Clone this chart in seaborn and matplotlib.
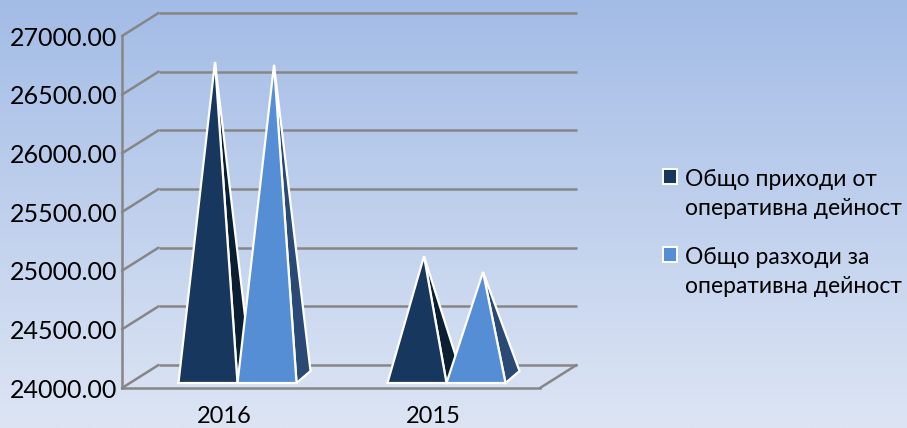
import numpy as np
import pandas as pd
import matplotlib
matplotlib.use("Agg")
import matplotlib.pyplot as plt
import seaborn as sns
from matplotlib.legend_handler import HandlerPatch
from matplotlib.patches import Patch, Rectangle
from matplotlib.transforms import Affine2D, IdentityTransform

years = ["2016", "2015"]
series_names = [
    "Общо приходи от\nоперативна дейност",
    "Общо разходи за\nоперативна дейност",
]
income = [26685, 25030]
expenses = [26660, 24895]
y_ticks = [24000, 24500, 25000, 25500, 26000, 26500, 27000]

front_colors = ["#17375E", "#558ED5"]
side_colors = ["#0B1F33", "#2A4A75"]
grid_color = "#868686"

df = pd.DataFrame({
    "year": years * 2,
    "value": income + expenses,
    "series": [series_names[0]] * 2 + [series_names[1]] * 2,
})

sns.set_theme(style="white")
plt.rcParams["font.family"] = ["Lato", "Open Sans", "DejaVu Sans"]

fig = plt.figure(figsize=(9.07, 4.28), dpi=100)
px = IdentityTransform()

# background gradient
bg = fig.add_axes([0, 0, 1, 1], zorder=0)
bg.axis("off")
grad = np.linspace(0, 1, 256).reshape(-1, 1, 1)
top = np.array([163, 188, 230]) / 255
bottom = np.array([221, 229, 244]) / 255
bg.imshow(top + (bottom - top) * grad, aspect="auto")

ax = fig.add_axes([122 / 907, 40 / 428, 418 / 907, 352 / 428], zorder=1)
ax.patch.set_alpha(0)
sns.barplot(
    data=df, x="year", y="value", hue="series", order=years,
    hue_order=series_names, palette=front_colors, width=0.565, gap=0,
    legend=False, ax=ax,
)
ax.set_xlim(-0.5, 1.5)
ax.set_ylim(y_ticks[0], y_ticks[-1])
ax.set_xlabel("")
ax.set_ylabel("")
ax.set_yticks(y_ticks)
ax.set_yticklabels([f"{v:.2f}" for v in y_ticks], fontsize=18, color="black")
ax.tick_params(axis="y", length=0, pad=3.5)
ax.tick_params(axis="x", length=0, pad=13, labelsize=17, labelcolor="black")
for lab in ax.get_xticklabels():
    lab.set_transform(lab.get_transform() + Affine2D().translate(-2.5, 0))

sns.despine(ax=ax, top=True, right=True)
for name in ["left", "bottom"]:
    ax.spines[name].set_color(grid_color)
    ax.spines[name].set_linewidth(1.8)

# 3d box: back wall lines and the diagonals going to it
dx, dy = 36.5, 23
depth = Affine2D().translate(dx, dy)
wall = ax.get_yaxis_transform()
for v in y_ticks:
    ax.plot([0, 1], [v, v], transform=wall + depth, color=grid_color, lw=1.8,
            clip_on=False, zorder=1, solid_capstyle="butt")
    p0 = wall.transform((0, v))
    ax.plot([p0[0], p0[0] + dx], [p0[1], p0[1] + dy], transform=px,
            color=grid_color, lw=1.8, clip_on=False, zorder=1)
p1 = wall.transform((1, y_ticks[0]))
ax.plot([p1[0], p1[0] + dx], [p1[1], p1[1] + dy], transform=px,
        color=grid_color, lw=1.8, clip_on=False, zorder=1)

# bars placed by seaborn, redrawn as pyramids
base_shift = Affine2D().translate(11, 5)
to_px = (ax.transData + base_shift).transform
patches = list(ax.patches)
for i, bar in enumerate(patches):
    bar.set_visible(False)
    k = i // len(years)
    x0, w = bar.get_x(), bar.get_width()
    x1, xc = x0 + w, x0 + w / 2
    value = bar.get_y() + bar.get_height()
    base = y_ticks[0]
    fl = to_px((x0, base))
    fr = to_px((x1, base))
    apex = to_px((xc, value)) + np.array([7, 6])
    back = fr + np.array([14, 12])
    ax.fill([apex[0], fr[0], back[0]], [apex[1], fr[1], back[1]], transform=px,
            facecolor=side_colors[k], edgecolor="white", lw=1.6, clip_on=False,
            zorder=3, joinstyle="miter")
    ax.fill([fl[0], fr[0], apex[0]], [fl[1], fr[1], apex[1]], transform=px,
            facecolor=front_colors[k], edgecolor="white", lw=1.6, clip_on=False,
            zorder=3, joinstyle="miter")
ax.set_xlim(-0.5, 1.5)
ax.set_ylim(y_ticks[0], y_ticks[-1])


def first_line_swatch(legend, orig_handle, xdescent, ydescent, width, height, fontsize):
    # swatch sits beside the first of the two text lines
    return Rectangle((-xdescent, -ydescent + 13), width, height)


handles = [Patch(facecolor=c, edgecolor="white", lw=1.4) for c in front_colors]
leg = fig.legend(
    handles, series_names, loc="upper left", bbox_to_anchor=(656 / 907, 1 - 162 / 428),
    frameon=False, fontsize=16.5, labelspacing=1.24,
    handlelength=0.62, handleheight=0.62, handletextpad=0.35, borderpad=0.3,
    borderaxespad=0, labelcolor="black", alignment="left",
    handler_map={Patch: HandlerPatch(patch_func=first_line_swatch)},
)
for t in leg.get_texts():
    t.set_linespacing(1.47)

fig.savefig("out.png", dpi=100)
